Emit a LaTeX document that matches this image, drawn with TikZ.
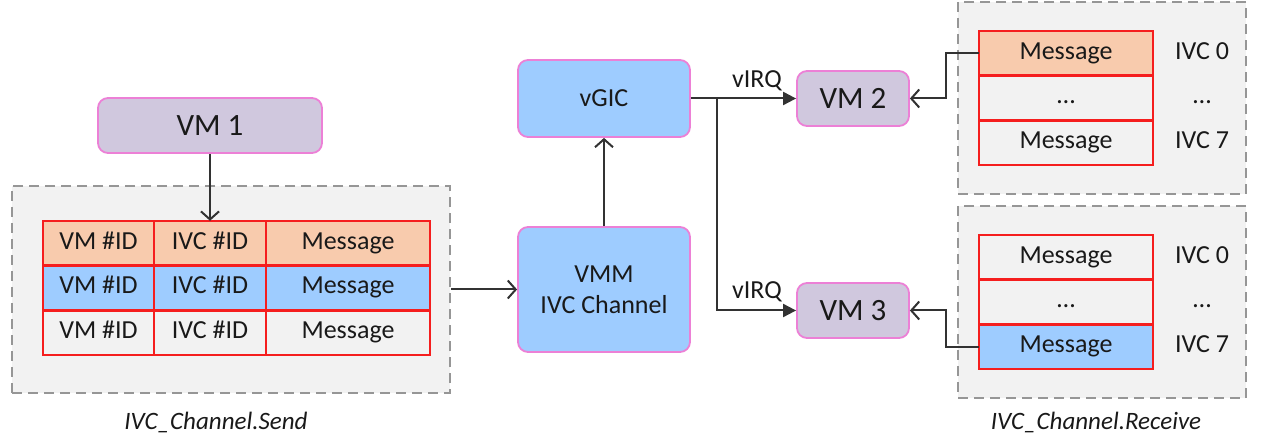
\documentclass[tikz,border=0pt]{standalone}
\usepackage{fontspec}
\setmainfont{Carlito}
\usetikzlibrary{arrows.meta}
\definecolor{txt}{RGB}{25,25,25}
\definecolor{pinkline}{RGB}{236,128,214}
\definecolor{lav}{RGB}{208,200,222}
\definecolor{lblue}{RGB}{158,204,255}
\definecolor{lorange}{RGB}{248,203,173}
\definecolor{redline}{RGB}{245,30,30}
\definecolor{bggray}{RGB}{242,242,242}
\definecolor{dgray}{RGB}{150,150,150}
\definecolor{conn}{RGB}{50,50,50}
\begin{document}
\begin{tikzpicture}[x=1pt,y=-1pt,
  box/.style={rectangle, rounded corners=10pt, draw=pinkline, line width=1.8pt, inner sep=0pt, text=txt, align=center},
  vmbox/.style={box, fill=lav, minimum width=112pt, minimum height=55pt, font=\fontsize{31}{36}\selectfont},
  bluebox/.style={box, fill=lblue, minimum width=172pt, font=\fontsize{26}{31}\selectfont},
  cell/.style={rectangle, inner sep=0pt, minimum height=44.67pt, text height=17pt, text depth=5pt, font=\fontsize{26}{30}\selectfont, text=txt},
  cellborder/.style={draw=redline, line width=2pt},
  lbl/.style={inner sep=0pt, text height=17pt, text depth=5pt, font=\fontsize{26}{30}\selectfont, text=txt},
  group/.style={rectangle, draw=dgray, dash pattern=on 10pt off 6pt, fill=bggray, line width=2pt, inner sep=0pt},
  conline/.style={draw=conn, line width=2pt},
  openarr/.style={conline, -{Straight Barb[length=8pt,width=18pt,line width=2pt]}},
  fillarr/.style={conline, -{Triangle[length=13pt,width=13pt]}},
  caption/.style={inner sep=0pt, font=\itshape\fontsize{25}{30}\selectfont, text=txt}
]
\useasboundingbox (0,0) rectangle (1261,438);

% groups
\node[group, minimum width=438pt, minimum height=207pt] (send) at (231,289.5) {};
\node[group, minimum width=288pt, minimum height=192pt] (recvA) at (1102,98) {};
\node[group, minimum width=288pt, minimum height=192pt] (recvB) at (1102,302) {};

% send table
\node[cell, fill=lorange, minimum width=111pt] (s11) at (98.5,243.3) {VM \#ID};
\node[cell, fill=lorange, minimum width=112pt] (s12) at (210,243.3) {IVC \#ID};
\node[cell, fill=lorange, minimum width=164pt] (s13) at (348,243.3) {Message};
\node[cell, fill=lblue, minimum width=111pt] (s21) at (98.5,288) {VM \#ID};
\node[cell, fill=lblue, minimum width=112pt] (s22) at (210,288) {IVC \#ID};
\node[cell, fill=lblue, minimum width=164pt] (s23) at (348,288) {Message};
\node[cell, fill=bggray, minimum width=111pt] (s31) at (98.5,332.7) {VM \#ID};
\node[cell, fill=bggray, minimum width=112pt] (s32) at (210,332.7) {IVC \#ID};
\node[cell, fill=bggray, minimum width=164pt] (s33) at (348,332.7) {Message};

% receive tables
\node[cell, fill=lorange, minimum width=174pt] (r11) at (1066,53.3) {Message};
\node[cell, fill=bggray, minimum width=174pt] (r12) at (1066,98) {…};
\node[cell, fill=bggray, minimum width=174pt] (r13) at (1066,142.7) {Message};
\node[lbl] (l11) at (1202,53.3) {IVC 0};
\node[lbl] (l12) at (1202,98) {…};
\node[lbl] (l13) at (1202,142.7) {IVC 7};

\node[cell, fill=bggray, minimum width=174pt] (r21) at (1066,257.3) {Message};
\node[cell, fill=bggray, minimum width=174pt] (r22) at (1066,302) {…};
\node[cell, fill=lblue, minimum width=174pt] (r23) at (1066,346.7) {Message};
\node[lbl] (l21) at (1202,257.3) {IVC 0};
\node[lbl] (l22) at (1202,302) {…};
\node[lbl] (l23) at (1202,346.7) {IVC 7};

% cell borders on top of fills
\foreach \c in {s11,s12,s13,s21,s22,s23,s31,s32,s33,r11,r12,r13,r21,r22,r23}
  \draw[cellborder] (\c.north west) rectangle (\c.south east);

% main boxes
\node[vmbox, minimum width=224pt] (vm1) at (210,125.5) {VM 1};
\node[bluebox, minimum height=77pt] (vgic) at (604,98.5) {vGIC};
\node[bluebox, minimum height=125pt] (vmm) at (604,289.5) {VMM\\IVC Channel};
\node[vmbox] (vm2) at (853,98.5) {VM 2};
\node[vmbox] (vm3) at (853,310.5) {VM 3};

% connectors
\draw[openarr] (vm1.south) -- (s12.north);
\draw[openarr] (send.east) -- (vmm.west);
\draw[openarr] (vmm.north) -- (vgic.south);
\draw[fillarr] (vgic.east) -- (vm2.west);
\coordinate (br) at (717,98.5);
\draw[fillarr] (br) |- (vm3.west);
\node[lbl] (irq1) at (757,82) {vIRQ};
\node[lbl] (irq2) at (757,293) {vIRQ};
\draw[openarr] (r11.west) -- ++(-33,0) |- (vm2.east);
\draw[openarr] (r23.west) -- ++(-33,0) |- (vm3.east);

% captions
\node[caption] (capS) at (216,422) {IVC\_Channel.Send};
\node[caption] (capR) at (1096,422) {IVC\_Channel.Receive};
\end{tikzpicture}
\end{document}
